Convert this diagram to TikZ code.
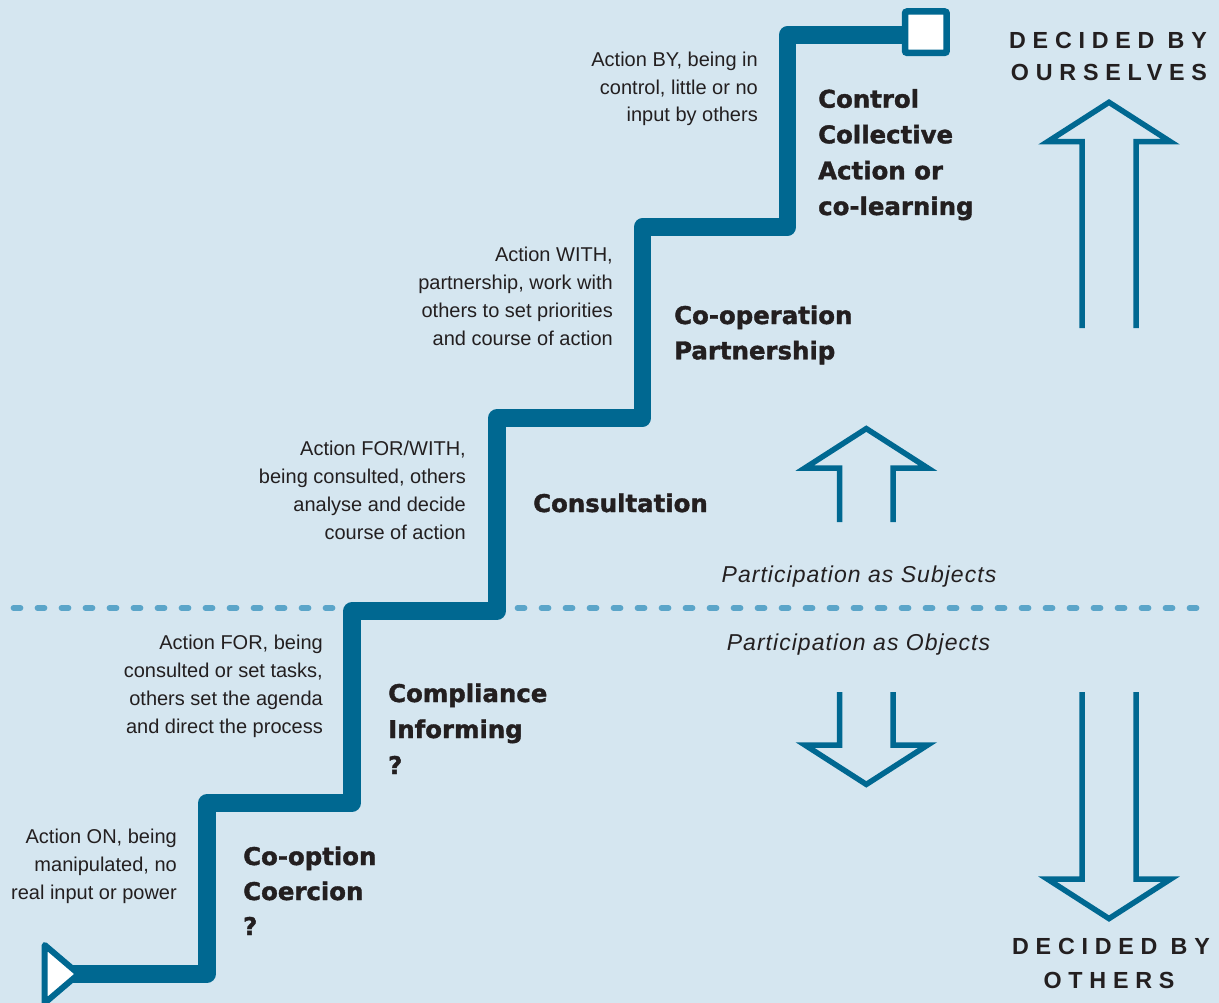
\documentclass[tikz,border=0pt]{standalone}
\usepackage{fontspec}
\setmainfont{Liberation Sans}
\newfontfamily\heavyfont{DejaVu Sans}[FakeBold=1.5]
\newfontfamily\spacedfont{Liberation Sans}[LetterSpace=29]
\newfontfamily\slfont{Liberation Sans}[LetterSpace=4.5]
\definecolor{bgc}{HTML}{D5E6F0}
\definecolor{stairc}{HTML}{006891}
\definecolor{dashc}{HTML}{5BA5C9}
\definecolor{ink}{HTML}{231F20}
\begin{document}
\begin{tikzpicture}[x=1pt,y=-1pt,
  small/.style={font=\fontsize{20}{28}\selectfont, text=ink, inner sep=0pt, anchor=base east},
  heavy/.style={font=\heavyfont\bfseries\fontsize{24.4}{35.5}\selectfont, text=ink, inner sep=0pt, anchor=base west},
  decided/.style={font=\spacedfont\bfseries\fontsize{23.3}{27}\selectfont, text=ink, inner sep=0pt, anchor=base},
  partlab/.style={font=\slfont\itshape\fontsize{23}{27}\selectfont, text=ink, inner sep=0pt, anchor=base},
  hollow/.style={draw=stairc, line width=5.5pt, line join=miter, line cap=butt},
]
\fill[bgc] (0,0) rectangle (1219,1003);
\useasboundingbox (0,0) rectangle (1219,1003);

% dashed divider
\coordinate (dl1) at (13.5,608);
\coordinate (dl2) at (1200,608);
\draw[dashc, line width=5.7pt, line cap=round, dash pattern=on 7pt off 17pt] (dl1) -- (dl2);

% staircase
\coordinate (st0) at (70,974);
\coordinate (st1) at (207,974);
\coordinate (st2) at (207,803);
\coordinate (st3) at (352,803);
\coordinate (st4) at (352,611);
\coordinate (st5) at (497,611);
\coordinate (st6) at (497,418);
\coordinate (st7) at (642.5,418);
\coordinate (st8) at (642.5,227);
\coordinate (st9) at (787.5,227);
\coordinate (st10) at (787.5,35);
\coordinate (st11) at (915,35);
\draw[stairc, line width=17.5pt, line join=round]
  (st0) -- (st1) -- (st2) -- (st3) -- (st4) -- (st5) -- (st6) -- (st7)
  -- (st8) -- (st9) -- (st10) -- (st11);

% start triangle
\coordinate (tr1) at (44.7,945);
\coordinate (tr2) at (44.7,1003);
\coordinate (tr3) at (78.7,974);
\draw[stairc, fill=white, line width=6pt, line join=round] (tr1) -- (tr3) -- (tr2) -- cycle;

% end square
\coordinate (sq1) at (905,11.5);
\coordinate (sq2) at (946.7,52.8);
\draw[stairc, fill=white, line width=6.5pt, rounded corners=2pt] (sq1) rectangle (sq2);

% big up arrow
\draw[hollow] (1082,328) -- (1082,141.7) -- (1047.6,141.7) -- (1109,102.3)
  -- (1170.4,141.7) -- (1136,141.7) -- (1136,328);
% small up arrow
\draw[hollow] (839.5,522) -- (839.5,468) -- (804.9,468) -- (866.3,428.6)
  -- (927.7,468) -- (893,468) -- (893,522);
% small down arrow
\draw[hollow] (839.5,692) -- (839.5,745) -- (804.9,745) -- (866.3,784.4)
  -- (927.7,745) -- (893,745) -- (893,692);
% big down arrow
\draw[hollow] (1082,692) -- (1082,879.2) -- (1047.6,879.2) -- (1109,918.6)
  -- (1170.4,879.2) -- (1136,879.2) -- (1136,692);

% headings
\node[decided] (dbo1) at (1108,48.3) {DECIDED BY};
\node[decided] (dbo2) at (1109,81) {OURSELVES};
\node[decided] (dbt1) at (1111,954) {DECIDED BY};
\node[decided] (dbt2) at (1109,988.3) {OTHERS};

% participation labels
\node[partlab] (psub) at (859,582.3) {Participation as Subjects};
\node[partlab] (pobj) at (858.5,650) {Participation as Objects};

% small descriptions
\node[small] (a1) at (177,843) {Action ON, being};
\node[small] (a2) at (177,871) {manipulated, no};
\node[small] (a3) at (177,899) {real input or power};

\node[small] (b1) at (323,649.5) {Action FOR, being};
\node[small] (b2) at (323,677.5) {consulted or set tasks,};
\node[small] (b3) at (323,705.5) {others set the agenda};
\node[small] (b4) at (323,733.5) {and direct the process};

\node[small] (c1) at (466,455.5) {Action FOR/WITH,};
\node[small] (c2) at (466,483.5) {being consulted, others};
\node[small] (c3) at (466,511.5) {analyse and decide};
\node[small] (c4) at (466,539.5) {course of action};

\node[small] (d1) at (613,261.5) {Action WITH,};
\node[small] (d2) at (613,289.5) {partnership, work with};
\node[small] (d3) at (613,317.5) {others to set priorities};
\node[small] (d4) at (613,345.5) {and course of action};

\node[small] (e1) at (758,67) {Action BY, being in};
\node[small] (e2) at (758,94.5) {control, little or no};
\node[small] (e3) at (758,122) {input by others};

% heavy labels
\node[heavy] (h1a) at (243,865) {Co-option};
\node[heavy] (h1b) at (243,900) {Coercion};
\node[heavy] (h1c) at (243,935) {?};

\node[heavy] (h2a) at (388,702) {Compliance};
\node[heavy] (h2b) at (388,738) {Informing};
\node[heavy] (h2c) at (388,774) {?};

\node[heavy] (h3a) at (533,512) {Consultation};

\node[heavy] (h4a) at (674,324) {Co-operation};
\node[heavy] (h4b) at (674,359.3) {Partnership};

\node[heavy] (h5a) at (818,107.7) {Control};
\node[heavy] (h5b) at (818,143.3) {Collective};
\node[heavy] (h5c) at (818,179.3) {Action or};
\node[heavy] (h5d) at (818,215) {co-learning};
\end{tikzpicture}
\end{document}
